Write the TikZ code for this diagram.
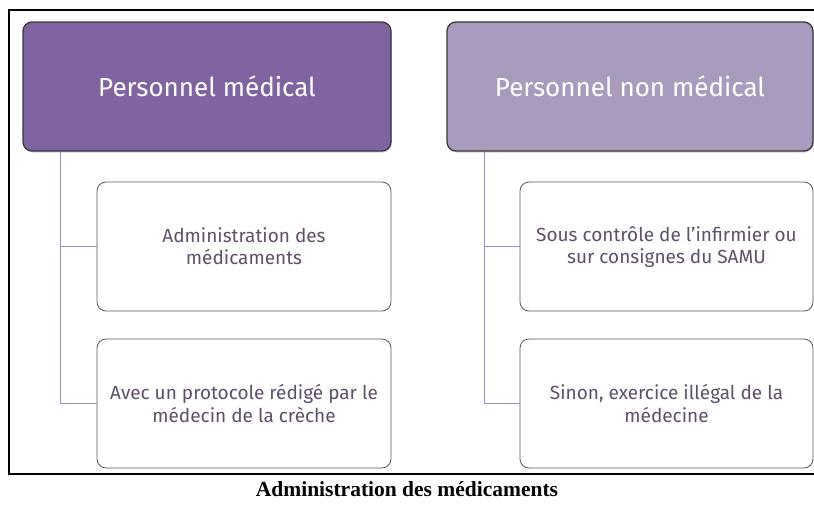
\documentclass[tikz,border=0pt]{standalone}
\usepackage{fontspec}
\setmainfont{Liberation Serif}
\newfontfamily\boxfont{Fira Sans}
\usetikzlibrary{positioning,shadows}
\definecolor{violetfonce}{HTML}{8064A2}
\definecolor{violetclair}{HTML}{A99BBD}
\definecolor{trait}{HTML}{9D8BC0}
\definecolor{texte}{HTML}{5F5068}
\tikzset{
    header/.style = {draw = black!78, line width = 1.3pt, rounded corners = 9pt,
        minimum width = #1, minimum height = 129pt, inner sep = 0pt,
        text = white, font = \boxfont\fontsize{26}{30}\selectfont,
        drop shadow = {opacity = 0.35, shadow xshift = 0.8pt, shadow yshift = -1.5pt}},
    item/.style = {draw = black!65, line width = 0.8pt, rounded corners = 9pt,
        fill = white, minimum width = 294pt, minimum height = 129pt,
        inner sep = 0pt, align = center, text = texte,
        font = \boxfont\fontsize{19}{22}\selectfont},
    branch/.style = {draw = trait, line width = 1.5pt},
}

\begin{document}
\begin{tikzpicture}[x = 1pt, y = -1pt]
    \useasboundingbox (0,0) rectangle (814,506);
    \draw [line width = 1.4pt] (9,10) rectangle (816,474);

    \node (med) [header = 368pt, fill = violetfonce] at (207,86.5) {Personnel médical};
    \node (nonmed) [header = 366pt, fill = violetclair] at (630,86.5) {Personnel non médical};

    \node (admin) [item] at (244,246.5) {Administration des\\médicaments};
    \node (proto) [item] at (244,403.5) {Avec un protocole rédigé par le\\médecin de la crèche};
    \node (controle) [item, minimum width = 293pt] at (666.5,246.5) {Sous contrôle de l’infirmier ou\\sur consignes du SAMU};
    \node (sinon) [item, minimum width = 293pt] at (666.5,403.5) {Sinon, exercice illégal de la\\médecine};

    \draw [branch] ([xshift = 38pt] med.south west) |- (admin.west);
    \draw [branch] ([xshift = 38pt] med.south west) |- (proto.west);
    \draw [branch] ([xshift = 38pt] nonmed.south west) |- (controle.west);
    \draw [branch] ([xshift = 38pt] nonmed.south west) |- (sinon.west);

    \node (legende) at (407,489) {\bfseries\fontsize{21.5}{24}\selectfont Administration des médicaments};
\end{tikzpicture}
\end{document}
